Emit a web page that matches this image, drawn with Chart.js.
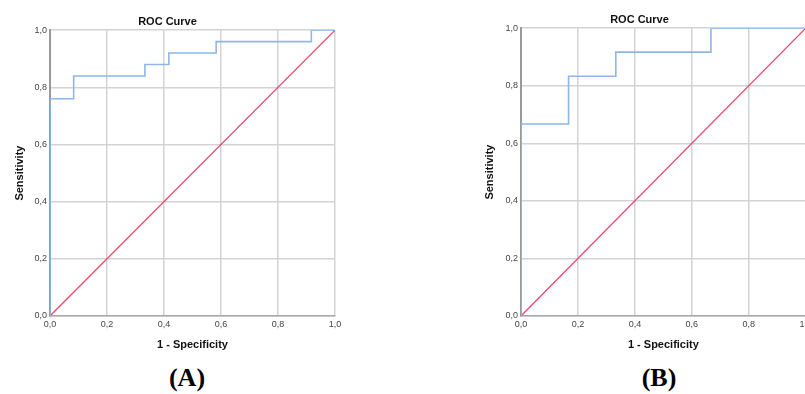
<!DOCTYPE html>
<html>
<head>
<meta charset="utf-8">
<script src="https://cdn.jsdelivr.net/npm/chart.js@4"></script>
<style>
  body { margin: 0; width: 805px; height: 394px; overflow: hidden; background: #fff; position: relative; }
  .wrap { position: absolute; top: 0; }
  .cap { position: absolute; top: 363px; font-family: 'Liberation Serif', serif; font-weight: bold; font-size: 26px; transform: translateX(-50%); color: #000; }
</style>
</head>
<body>
<div class="wrap" style="left:0px; width:345px; height:352px;"><canvas id="rocA"></canvas></div>
<div class="wrap" style="left:470px; width:345px; height:352px;"><canvas id="rocB"></canvas></div>
<div class="cap" style="left:187px;">(A)</div>
<div class="cap" style="left:659px;">(B)</div>
<script>
// ROC coordinates (1 - specificity, sensitivity)
const fprA = [0, 0, 0.083, 0.333, 0.417, 0.583, 0.917, 1]
const tprA = [0, 0.76, 0.84, 0.88, 0.92, 0.96, 1, 1]
const fprB = [0, 0, 0.167, 0.333, 0.667, 1]
const tprB = [0, 0.667, 0.833, 0.917, 1, 1]
const refLine = [0, 1]
const tickLabels = ['0,0', '0,2', '0,4', '0,6', '0,8', '1,0']

const pts = (xs, ys) => xs.map((x, i) => ({x, y: ys[i]}))

const makeChart = (id, fpr, tpr, area) => {
    const tickFont = {family: 'Arial, Liberation Sans', size: 9}
    const titleFont = {family: 'Arial, Liberation Sans', size: 11, weight: 'bold'}
    const fmt = v => tickLabels[Math.round(v * 5)]
    return new Chart(document.getElementById(id), {
        type: 'line',
        data: {
            datasets: [
                {
                    data: pts(fpr, tpr),
                    borderColor: '#8db6ea',
                    borderWidth: 1.6,
                    stepped: 'before',
                    pointRadius: 0,
                    fill: false,
                },
                {
                    data: pts(refLine, refLine),
                    borderColor: '#e8476c',
                    borderWidth: 1.3,
                    pointRadius: 0,
                    fill: false,
                },
            ],
        },
        options: {
            responsive: true,
            maintainAspectRatio: false,
            animation: false,
            layout: {padding: {top: area.top, right: area.right, left: 0, bottom: 0}},
            scales: {
                x: {
                    type: 'linear',
                    min: 0,
                    max: 1,
                    afterFit: s => { s.height = area.xh },
                    grid: {color: '#d3d3d3', lineWidth: 1.5, drawTicks: false},
                    border: {color: '#a8a8a8', width: 1.5},
                    ticks: {stepSize: 0.2, padding: 3, color: '#444', font: tickFont, maxRotation: 0, callback: fmt},
                    title: {display: true, text: '1 - Specificity', color: '#111', font: titleFont, padding: {top: 0, bottom: 0}},
                },
                y: {
                    type: 'linear',
                    min: 0,
                    max: 1,
                    afterFit: s => { s.width = area.left },
                    grid: {color: '#d3d3d3', lineWidth: 1.5, drawTicks: false},
                    border: {color: '#9a9a9a', width: 2},
                    ticks: {stepSize: 0.2, padding: 3, color: '#444', font: tickFont, callback: fmt},
                    title: {display: true, text: 'Sensitivity', color: '#111', font: titleFont, padding: {top: 13, bottom: 0}},
                },
            },
            plugins: {
                legend: {display: false},
                tooltip: {enabled: false},
                title: {
                    display: true,
                    text: 'ROC Curve',
                    color: '#111',
                    font: titleFont,
                    padding: {top: area.tpad, bottom: area.tgap},
                },
            },
        },
    })
}

makeChart('rocA', fprA, tprA, {left: 50, right: 10, top: 13, xh: 36, tpad: 2, tgap: 2})
makeChart('rocB', fprB, tprB, {left: 51, right: 6, top: 12, xh: 36, tpad: 1, tgap: 2})
</script>
</body>
</html>
